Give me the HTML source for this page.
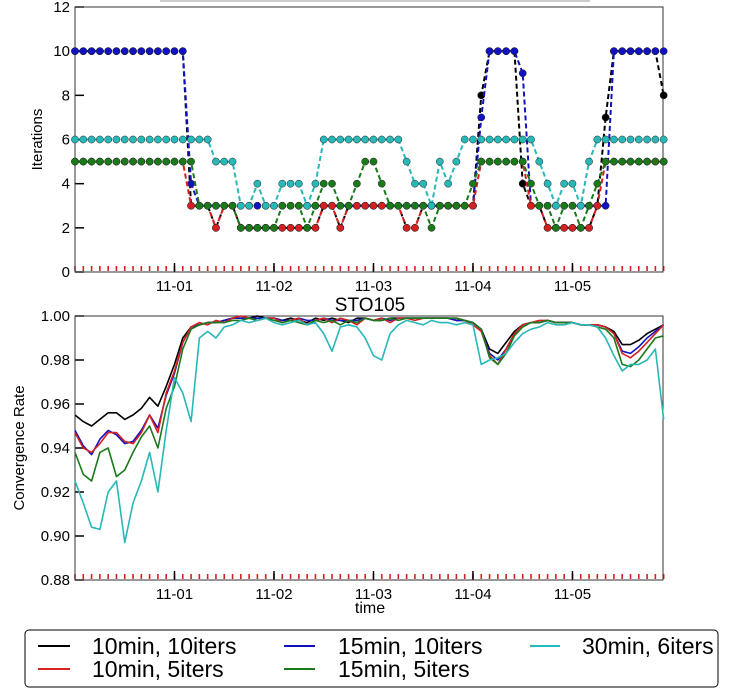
<!DOCTYPE html>
<html><head><meta charset="utf-8"><style>
body{margin:0;background:#fff;}
svg{display:block;font-family:"Liberation Sans","DejaVu Sans",sans-serif;}
</style></head><body>
<svg id="c" width="741" height="689" viewBox="0 0 741 689">
<rect x="160" y="0" width="430" height="2" fill="#ccc"/>
<g id="top"></g>
<g id="bot"></g>
<g>
<rect x="25" y="630" width="693" height="57" rx="4" fill="#fff" stroke="#000" stroke-width="1"/>
<g font-size="23">
<line x1="38" y1="646" x2="70" y2="646" stroke="#000" stroke-width="2"/><text x="92" y="654">10min, 10iters</text>
<line x1="38" y1="669" x2="70" y2="669" stroke="#d22" stroke-width="2"/><text x="92" y="677">10min, 5iters</text>
<line x1="284" y1="646" x2="315" y2="646" stroke="#11b" stroke-width="2"/><text x="338" y="654">15min, 10iters</text>
<line x1="284" y1="669" x2="315" y2="669" stroke="#1a7a1a" stroke-width="2"/><text x="338" y="677">15min, 5iters</text>
<line x1="530" y1="646" x2="560" y2="646" stroke="#2bb" stroke-width="2"/><text x="582" y="654">30min, 6iters</text>
</g></g>
</svg>
<script>
const xTickLabels=["11-01","11-02","11-03","11-04","11-05"];
const xTickDays=[1,2,3,4,5];
const topYTicks=[0,2,4,6,8,10,12];
const botYTicks=[0.88,0.90,0.92,0.94,0.96,0.98,1.00];
const stepDays=1/12;
const itBlack=[10,10,10,10,10,10,10,10,10,10,10,10,10,10,3,3,3,2,3,3,2,2,2,2,2,2,2,2,2,2,3,3,2,3,3,3,3,3,3,3,2,2,3,3,3,3,3,3,3,8,10,10,10,10,4,3,3,2,2,2,2,2,2,3,7,10,10,10,10,10,10,8];
const itRed=[5,5,5,5,5,5,5,5,5,5,5,5,5,5,3,3,3,2,3,3,2,2,2,2,2,2,2,2,2,2,3,3,2,3,3,3,3,3,3,3,2,2,3,3,3,3,3,3,3,5,5,5,5,5,5,3,3,2,2,2,2,2,2,3,5,5,5,5,5,5,5,5];
const itBlue=[10,10,10,10,10,10,10,10,10,10,10,10,10,10,4,3,3,3,3,3,3,3,3,3,3,3,3,3,3,3,3,3,3,3,3,3,3,3,3,3,3,3,3,3,3,3,3,3,3,7,10,10,10,10,9,3,3,3,3,3,3,3,3,3,3,10,10,10,10,10,10,10];
const itGreen=[5,5,5,5,5,5,5,5,5,5,5,5,5,5,5,3,3,3,3,3,2,2,2,2,2,3,3,3,2,3,4,4,3,3,4,5,5,4,3,3,3,3,3,2,3,3,3,3,4,5,5,5,5,5,5,4,3,3,2,3,3,2,3,4,5,5,5,5,5,5,5,5];
const itCyan=[6,6,6,6,6,6,6,6,6,6,6,6,6,6,6,6,6,5,5,5,3,3,4,3,3,4,4,4,3,4,6,6,6,6,6,6,6,6,6,6,5,4,4,3,5,4,5,6,6,6,6,6,6,6,6,6,5,4,3,4,4,3,5,6,6,6,6,6,6,6,6,6];
const crBlack=[.955,.952,.950,.953,.956,.956,.953,.955,.958,.963,.959,.968,.978,.990,.995,.996,.997,.997,.998,.999,.999,.999,1.0,.999,.999,.998,.999,.998,.997,.999,.998,.999,.998,.997,.999,.999,.998,.998,.999,.999,.999,.999,.999,.999,.999,.999,.998,.998,.997,.994,.985,.983,.988,.993,.996,.997,.997,.998,.997,.997,.997,.996,.996,.996,.995,.993,.987,.987,.989,.992,.994,.996];
const crRed=[.947,.940,.938,.942,.947,.947,.943,.942,.947,.955,.947,.965,.975,.988,.995,.997,.996,.998,.997,.999,1.0,.999,.998,.999,.999,.997,.998,.999,.996,.998,.999,.997,.999,.998,.996,.999,.998,.999,.997,.999,.999,.998,.999,.999,.999,.999,.999,.998,.996,.993,.982,.978,.985,.992,.996,.997,.998,.998,.997,.997,.997,.996,.996,.996,.995,.992,.983,.981,.984,.988,.992,.996];
const crBlue=[.948,.941,.937,.944,.948,.946,.942,.943,.948,.955,.949,.964,.974,.988,.995,.996,.997,.997,.998,.999,.999,.999,.999,.999,.999,.998,.998,.999,.998,.998,.999,.998,.998,.998,.998,.999,.998,.999,.998,.999,.999,.999,.999,.999,.999,.999,.998,.998,.997,.994,.983,.980,.985,.992,.996,.997,.997,.998,.997,.997,.997,.996,.996,.996,.995,.992,.984,.983,.986,.990,.993,.996];
const crGreen=[.938,.928,.925,.938,.940,.927,.930,.938,.945,.950,.940,.958,.968,.985,.994,.996,.997,.997,.997,.998,.998,.999,.998,.999,.998,.997,.998,.997,.996,.998,.997,.998,.996,.998,.997,.999,.998,.998,.999,.998,.999,.999,.999,.999,.999,.999,.999,.998,.997,.994,.981,.978,.983,.991,.995,.997,.997,.998,.997,.997,.997,.996,.996,.995,.994,.990,.978,.977,.980,.985,.990,.991];
const crCyan=[.925,.915,.904,.903,.920,.925,.897,.915,.925,.938,.920,.948,.972,.965,.952,.990,.993,.990,.995,.996,.998,.997,.998,.999,.997,.996,.997,.998,.996,.997,.992,.984,.995,.996,.995,.990,.982,.980,.992,.996,.998,.997,.996,.998,.997,.997,.996,.997,.996,.978,.980,.981,.983,.988,.992,.994,.995,.997,.996,.996,.997,.996,.996,.995,.990,.982,.975,.978,.978,.980,.985,.953];

const NS="http://www.w3.org/2000/svg";
const X0=75,X1=663,DMAX=5.91;
function xs(d){return X0+(d/DMAX)*(X1-X0);}
function mk(t,a,p){const e=document.createElementNS(NS,t);for(const k in a)e.setAttribute(k,a[k]);p.appendChild(e);return e;}
const colors={black:"#000",red:"#d42020",blue:"#1212c0",green:"#1a7a1a",cyan:"#28b8b8"};

function axes(g,y0,y1,vmin,vmax,ticks,fmt,ylabel,ylx){
  const ys=v=>y1-(v-vmin)/(vmax-vmin)*(y1-y0);
  for(let i=0;i<=71;i++){const x=xs(i*stepDays);
    const t=mk("line",{x1:x,x2:x,y1:y1-1,y2:y1-6,stroke:"#d42020","stroke-width":1.6},g);
    
    }
  xTickDays.forEach((d,i)=>{const x=xs(d);
    const t=mk("line",{x1:x,x2:x,y1:y1,y2:y1-9,stroke:"#000","stroke-width":1.5},g);
    
    
    const l=mk("text",{x:x,y:y1+19,"text-anchor":"middle","font-size":15},g);l.textContent=xTickLabels[i];
    
    });
  ticks.forEach(v=>{const y=ys(v);
    const t=mk("line",{x1:X0,x2:X0+9,y1:y,y2:y,stroke:"#000","stroke-width":1.5},g);
    
    
    const l=mk("text",{x:X0-5,y:y+5,"text-anchor":"end","font-size":15},g);l.textContent=fmt(v);
    
    });
  const f=mk("rect",{x:X0,y:y0,width:X1-X0,height:y1-y0,fill:"none",stroke:"#333","stroke-width":1},g);
  
  
  const yl=mk("text",{x:ylx,y:(y0+y1)/2,"text-anchor":"middle","font-size":15,transform:`rotate(-90 ${ylx} ${(y0+y1)/2})`},g);
  yl.textContent=ylabel;
  
  
  return ys;
}
function series(g,vals,ys,col,dashed,markers,name){
  const pts=vals.map((v,i)=>[xs(i*stepDays),ys(v)]);
  const p=mk("polyline",{points:pts.map(q=>q.join(",")).join(" "),fill:"none",stroke:col,"stroke-width":dashed?2:1.6,"stroke-dasharray":dashed?"5,3":"none","stroke-linejoin":"round"},g);
  
  
  if(markers)pts.forEach(q=>{const c=mk("circle",{cx:q[0],cy:q[1],r:3.6,fill:col,stroke:"#222","stroke-width":0.5},g);
    
    });
}
const gTop=document.getElementById("top");
const ysT=axes(gTop,7,272,0,12,topYTicks,v=>String(v),"Iterations",42);
[[itBlack,"black","10min-10iters"],[itBlue,"blue","15min-10iters"],[itRed,"red","10min-5iters"],[itGreen,"green","15min-5iters"],[itCyan,"cyan","30min-6iters"]].forEach(s=>series(gTop,s[0],ysT,colors[s[1]],true,true,s[2]));
const gBot=document.getElementById("bot");
const ysB=axes(gBot,316,580,0.88,1.00,botYTicks,v=>v.toFixed(2),"Convergence Rate",24);
[[crBlack,"black","10min-10iters"],[crBlue,"blue","15min-10iters"],[crRed,"red","10min-5iters"],[crGreen,"green","15min-5iters"],[crCyan,"cyan","30min-6iters"]].forEach(s=>series(gBot,s[0],ysB,colors[s[1]],false,false,s[2]));
const tt=mk("text",{x:370,y:311,"text-anchor":"middle","font-size":19},gBot);tt.textContent="STO105";


const xl=mk("text",{x:370,y:613,"text-anchor":"middle","font-size":16},gBot);xl.textContent="time";


</script>
</body></html>
